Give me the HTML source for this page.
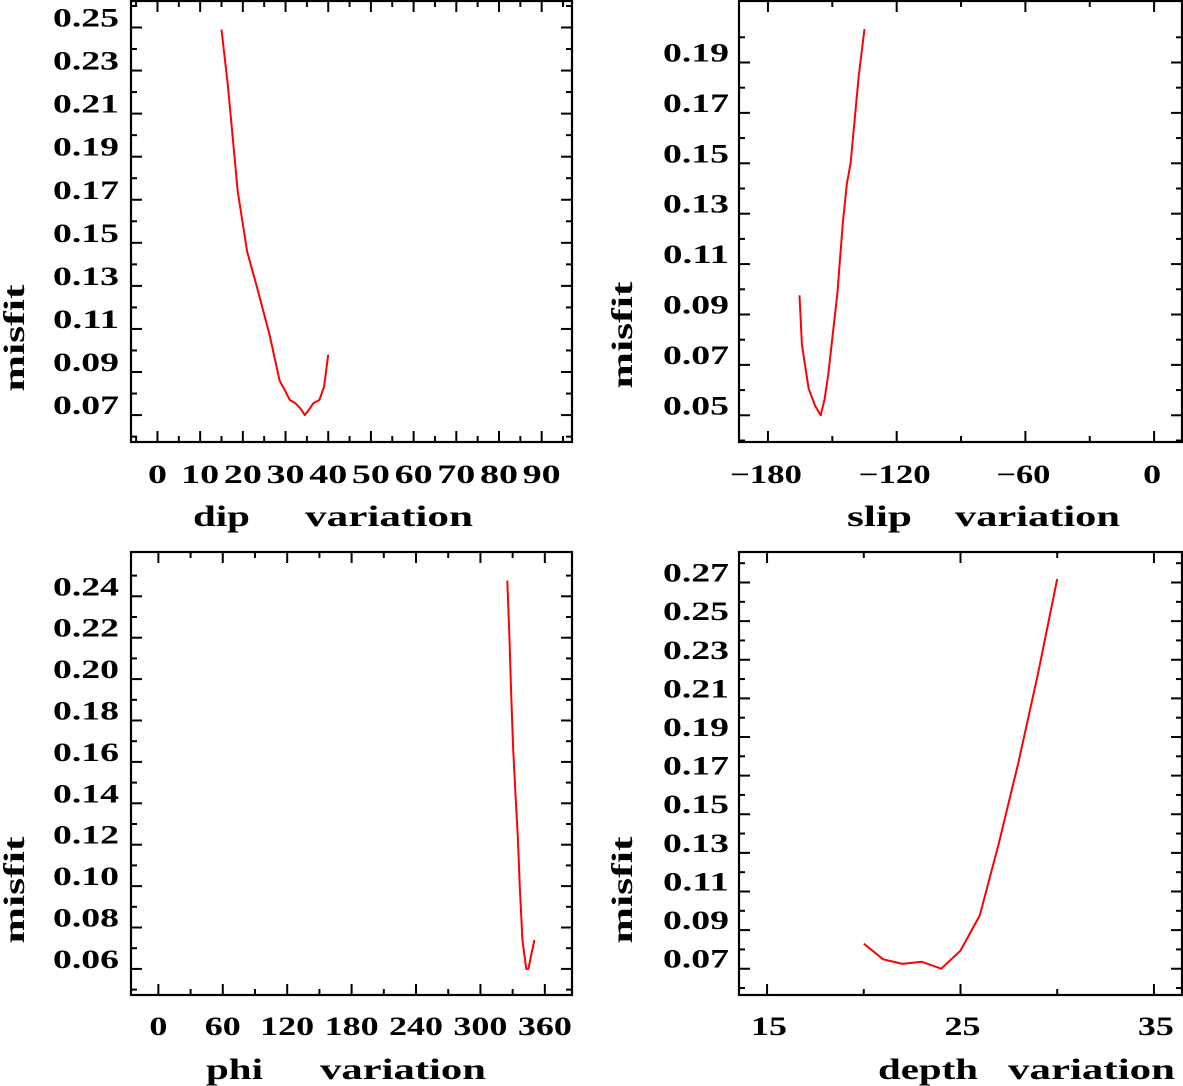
<!DOCTYPE html>
<html><head><meta charset="utf-8"><style>
html,body{margin:0;padding:0;background:#fff;}
svg{display:block;}
text{font-family:"Liberation Serif",serif;font-weight:bold;fill:#000;}
</style></head><body>
<svg id="fig" width="1183" height="1086" viewBox="0 0 1183 1086" xmlns="http://www.w3.org/2000/svg"></svg>
<script>
// ---- data: dip panel ----
const dipX = [15, 16.5, 18.8, 21, 23.5, 26.3, 28.6, 30, 31, 32.3, 33.5, 34.5, 35.5, 36.5, 37.9, 39, 40];
const dipY = [0.249, 0.223, 0.174, 0.146, 0.128, 0.107, 0.086, 0.081, 0.077, 0.0755, 0.073, 0.070, 0.0725, 0.0755, 0.077, 0.083, 0.098];
const dipTicks = [0,10,20,30,40,50,60,70,80,90];
const dipYTicks = [0.07,0.09,0.11,0.13,0.15,0.17,0.19,0.21,0.23,0.25];
// ---- data: slip panel ----
const slipX = [-165.3, -164.2, -163, -161, -158, -155.4, -153.6, -151.9, -149.6, -147.6, -146.5, -145, -143.2, -141.5, -139.6, -137.7, -135];
const slipY = [0.0976, 0.0782, 0.0715, 0.0605, 0.0537, 0.050, 0.0564, 0.066, 0.0837, 0.0988, 0.111, 0.127, 0.142, 0.150, 0.167, 0.1845, 0.2033];
const slipTicks = [-180,-120,-60,0];
const slipYTicks = [0.05,0.07,0.09,0.11,0.13,0.15,0.17,0.19];
// ---- data: phi panel ----
const phiX = [325, 327, 328.6, 330.4, 332.8, 334.9, 336.7, 339.1, 342.6, 344.7, 347.2, 350.3];
const phiY = [0.2476, 0.2209, 0.194, 0.167, 0.1433, 0.123, 0.0996, 0.0742, 0.060, 0.060, 0.0665, 0.0739];
const phiTicks = [0,60,120,180,240,300,360];
const phiYTicks = [0.06,0.08,0.10,0.12,0.14,0.16,0.18,0.20,0.22,0.24];
// ---- data: depth panel ----
const depthX = [20, 21, 22, 23, 24, 25, 26, 27, 28, 29, 30];
const depthY = [0.083, 0.0749, 0.0725, 0.0736, 0.070, 0.0794, 0.0976, 0.1357, 0.177, 0.2225, 0.2718];
const depthTicks = [15,25,35];
const depthYTicks = [0.07,0.09,0.11,0.13,0.15,0.17,0.19,0.21,0.23,0.25,0.27];

const NS="http://www.w3.org/2000/svg";
const svg=document.getElementById('fig');
function mk(tag,attrs,parent){const e=document.createElementNS(NS,tag);for(const k in attrs)e.setAttribute(k,attrs[k]);(parent||svg).appendChild(e);return e;}
function strW(s,dw){let w=0;for(const c of s)w+=(c==='.')?12:dw;return w;}

function panel(cfg){
  const g=mk('g',{});
  
  
  const L=cfg.box[0],T=cfg.box[1],R=cfg.box[2],B=cfg.box[3];
  const sx=v=>L+(v-cfg.xd[0])/(cfg.xd[1]-cfg.xd[0])*(R-L);
  const sy=v=>B-(v-cfg.yd[0])/(cfg.yd[1]-cfg.yd[0])*(B-T);
  const frame=mk('rect',{x:L,y:T,width:R-L,height:B-T,fill:'none',stroke:'#000','stroke-width':2.2},g);
  
  
  const ys=cfg.yt[1]-cfg.yt[0];
  for(let i=0;i<cfg.yt.length;i++){
    const v=cfg.yt[i],y=sy(v);
    mk('line',{x1:L,y1:y,x2:L+11,y2:y,stroke:'#000','stroke-width':2},g);
    mk('line',{x1:R,y1:y,x2:R-11,y2:y,stroke:'#000','stroke-width':2},g);
    const s=v.toFixed(2);
    const t=mk('text',{x:cfg.ylabRight,y:y-1,'text-anchor':'end','font-size':26,textLength:strW(s,18),lengthAdjust:'spacingAndGlyphs'},g);
    t.textContent=s;
    
    
  }
  for(let v=cfg.yt[0]-ys/2;v<cfg.yd[1];v+=ys){
    if(v<=cfg.yd[0])continue;const y=sy(v);
    mk('line',{x1:L,y1:y,x2:L+6,y2:y,stroke:'#000','stroke-width':2},g);
    mk('line',{x1:R,y1:y,x2:R-6,y2:y,stroke:'#000','stroke-width':2},g);
  }
  const xs=cfg.xt[1]-cfg.xt[0];
  for(let i=0;i<cfg.xt.length;i++){
    const v=cfg.xt[i],x=sx(v);
    mk('line',{x1:x,y1:B,x2:x,y2:B-11,stroke:'#000','stroke-width':2},g);
    mk('line',{x1:x,y1:T,x2:x,y2:T+11,stroke:'#000','stroke-width':2},g);
    const s=(v<0?'\u2212'+(-v):String(v));
    const t=mk('text',{x:x+cfg.xoff,y:cfg.xlabY,'text-anchor':'middle','font-size':26,textLength:strW(s,cfg.xdw),lengthAdjust:'spacingAndGlyphs'},g);
    t.textContent=s;
    
    
  }
  for(let v=cfg.xt[0]-xs/2;v<cfg.xd[1];v+=xs){
    if(v<=cfg.xd[0])continue;const x=sx(v);
    mk('line',{x1:x,y1:B,x2:x,y2:B-6,stroke:'#000','stroke-width':2},g);
    mk('line',{x1:x,y1:T,x2:x,y2:T+6,stroke:'#000','stroke-width':2},g);
  }
  let d='';
  for(let i=0;i<cfg.x.length;i++)d+=(i?'L':'M')+sx(cfg.x[i]).toFixed(1)+','+sy(cfg.y[i]).toFixed(1);
  const p=mk('path',{d:d,fill:'none',stroke:'#ff0000','stroke-width':2,'stroke-linejoin':'round'},g);
  
  
  const xt1=mk('text',{x:cfg.t1[0],y:cfg.t1[1],'font-size':30,textLength:cfg.t1[3],lengthAdjust:'spacingAndGlyphs'},g);
  xt1.textContent=cfg.t1[2];
  
  
  const xt2=mk('text',{x:cfg.t2[0],y:cfg.t2[1],'font-size':30,textLength:cfg.t2[2],lengthAdjust:'spacingAndGlyphs'},g);
  xt2.textContent='variation';
  
  
  const yt=mk('text',{x:0,y:0,'font-size':30,'text-anchor':'middle',textLength:107,lengthAdjust:'spacingAndGlyphs',transform:'translate('+cfg.mis[0]+','+cfg.mis[1]+') rotate(-90)'},g);
  yt.textContent='misfit';
  
  
}

panel({name:'dip',box:[131,1,572,442],xd:[-6.2,97.1],yd:[0.0575,0.2623],xt:dipTicks,yt:dipYTicks,x:dipX,y:dipY,
  ylabRight:119,xlabY:483,xoff:0,xdw:19,t1:[193,526,'dip',57],t2:[305,526,168],mis:[24,338]});
panel({name:'slip',box:[739,1,1182,442],xd:[-193.5,13.0],yd:[0.0394,0.2144],xt:slipTicks,yt:slipYTicks,x:slipX,y:slipY,
  ylabRight:729,xlabY:483,xoff:-2,xdw:18,t1:[847,526,'slip',65],t2:[955,526,165],mis:[632,335]});
panel({name:'phi',box:[131,552,572,995],xd:[-25.5,385.3],yd:[0.0474,0.2614],xt:phiTicks,yt:phiYTicks,x:phiX,y:phiY,
  ylabRight:119,xlabY:1035,xoff:0,xdw:18,t1:[206,1079,'phi',57],t2:[320,1079,166],mis:[24,890]});
panel({name:'depth',box:[739,552,1182,995],xd:[13.55,36.45],yd:[0.0564,0.2858],xt:depthTicks,yt:depthYTicks,x:depthX,y:depthY,
  ylabRight:729,xlabY:1035,xoff:2,xdw:18,t1:[878,1079,'depth',100],t2:[1008,1079,167],mis:[632,890]});
</script>
</body></html>
